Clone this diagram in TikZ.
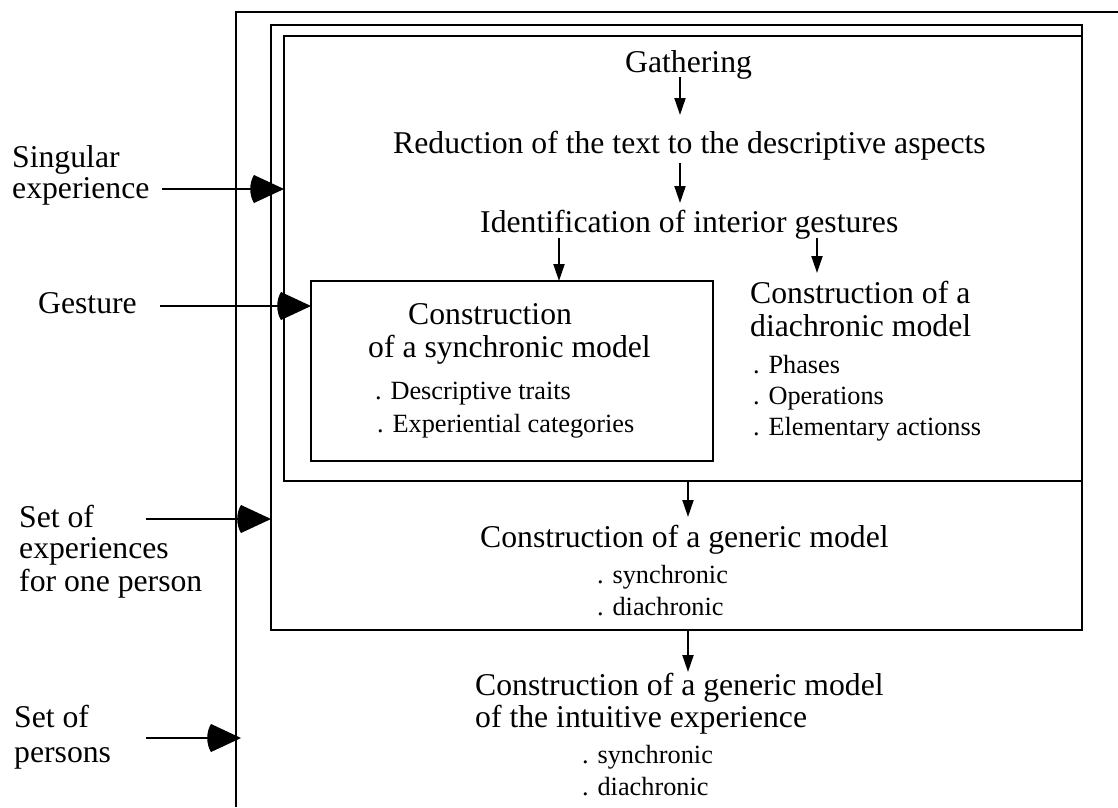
\documentclass[tikz,border=0pt]{standalone}
\usepackage{fontspec}
\setmainfont{Liberation Serif}
\usetikzlibrary{arrows.meta}
\pgfdeclarearrow{
  name = BigHead,
  setup code = {
    \pgfarrowssettipend{0pt}
    \pgfarrowssetlineend{-20pt}
    \pgfarrowssetbackend{-33pt}
  },
  drawing code = {
    \pgfpathmoveto{\pgfpointorigin}
    \pgfpathlineto{\pgfpoint{-30pt}{14pt}}
    \pgfpathcurveto{\pgfpoint{-35pt}{6pt}}{\pgfpoint{-35pt}{-6pt}}{\pgfpoint{-30pt}{-14pt}}
    \pgfpathclose
    \pgfusepathqfill
  }
}
\begin{document}
\begin{tikzpicture}[x=1pt,y=-1pt,
  frame/.style={draw, line width=2.2pt, inner sep=0pt, outer sep=0pt, anchor=north west},
  frameline/.style={line width=2.2pt},
  big/.style={inner sep=0pt, anchor=base west, font=\fontsize{31.7}{34}\selectfont},
  small/.style={inner sep=0pt, anchor=base west, font=\fontsize{26.3}{30}\selectfont},
  sarr/.style={line width=2pt, -{Triangle[length=17pt,width=11pt]}},
  barr/.style={line width=2pt, -{BigHead}}]
\useasboundingbox (0,0) rectangle (1118,807);

% outer open frame
\coordinate (ofb) at (236,807);
\coordinate (oft) at (236,12);
\coordinate (ofr) at (1118,12);
\draw[frameline] (ofb) -- (oft) -- (ofr);

% boxes
\node[frame, minimum width=811pt, minimum height=605pt] (mid) at (271,25) {};
\node[frame, minimum width=798pt, minimum height=445pt] (inner) at (284,36) {};
\node[frame, minimum width=402pt, minimum height=180pt] (syn) at (311,281) {};

% texts in the inner box
\node[big] (gath) at (625,72) {Gathering};
\node[big] (red) at (393,153) {Reduction of the text to the descriptive aspects};
\node[big] (ident) at (480,232) {Identification of interior gestures};
\node[big] (syn1) at (408,324) {Construction};
\node[big] (syn2) at (368,357) {of a synchronic model};
\node[small] (syn3) at (375,399) {. Descriptive traits};
\node[small] (syn4) at (377,432) {. Experiential categories};
\node[big] (dia1) at (750,303) {Construction of a};
\node[big] (dia2) at (750,336) {diachronic model};
\node[small] (dia3) at (753,373) {. Phases};
\node[small] (dia4) at (753,404) {. Operations};
\node[small] (dia5) at (753,435) {. Elementary actionss};

% generic model
\node[big] (gen1) at (480,547) {Construction of a generic model};
\node[small] (gen2) at (597,583) {. synchronic};
\node[small] (gen3) at (597,615) {. diachronic};

% intuitive experience
\node[big] (int1) at (475,695) {Construction of a generic model};
\node[big] (int2) at (475,727) {of the intuitive experience};
\node[small] (int3) at (582,763) {. synchronic};
\node[small] (int4) at (582,795) {. diachronic};

% left labels
\node[big] (lsa) at (12,167) {Singular};
\node[big] (lsb) at (12,198) {experience};
\node[big] (lg) at (38,313) {Gesture};
\node[big] (lea) at (19,527) {Set of};
\node[big] (leb) at (19,558) {experiences};
\node[big] (lec) at (19,591) {for one person};
\node[big] (lpa) at (14,727) {Set of};
\node[big] (lpb) at (14,762) {persons};

% x positions of vertical arrows
\coordinate (ax1) at (680,0);
\coordinate (ax2) at (559,0);
\coordinate (ax3) at (817,0);
\coordinate (ax4) at (688,0);

% vertical arrows
\draw[sarr] ([yshift=-5pt]gath.base -| ax1) -- ([yshift=38pt]red.base -| ax1);
\draw[sarr] ([yshift=-10pt]red.base -| ax1) -- ([yshift=29pt]ident.base -| ax1);
\draw[sarr] ([yshift=-6pt]ident.base -| ax2) -- (syn.north -| ax2);
\draw[sarr] ([yshift=-6pt]ident.base -| ax3) -- ([yshift=30pt]dia1.base -| ax3);
\draw[sarr] (inner.south -| ax4) -- ([yshift=30pt]gen1.base -| ax4);
\draw[sarr] (mid.south -| ax4) -- ([yshift=23pt]int1.base -| ax4);

% horizontal input arrows
\draw[barr] (162,189) -- (inner.west |- 0,189);
\draw[barr] (160,306) -- (syn.west |- 0,306);
\draw[barr] (146,519) -- (mid.west |- 0,519);
\draw[barr] (146,738) -- ([xshift=5pt]oft |- 0,738);
\end{tikzpicture}
\end{document}
